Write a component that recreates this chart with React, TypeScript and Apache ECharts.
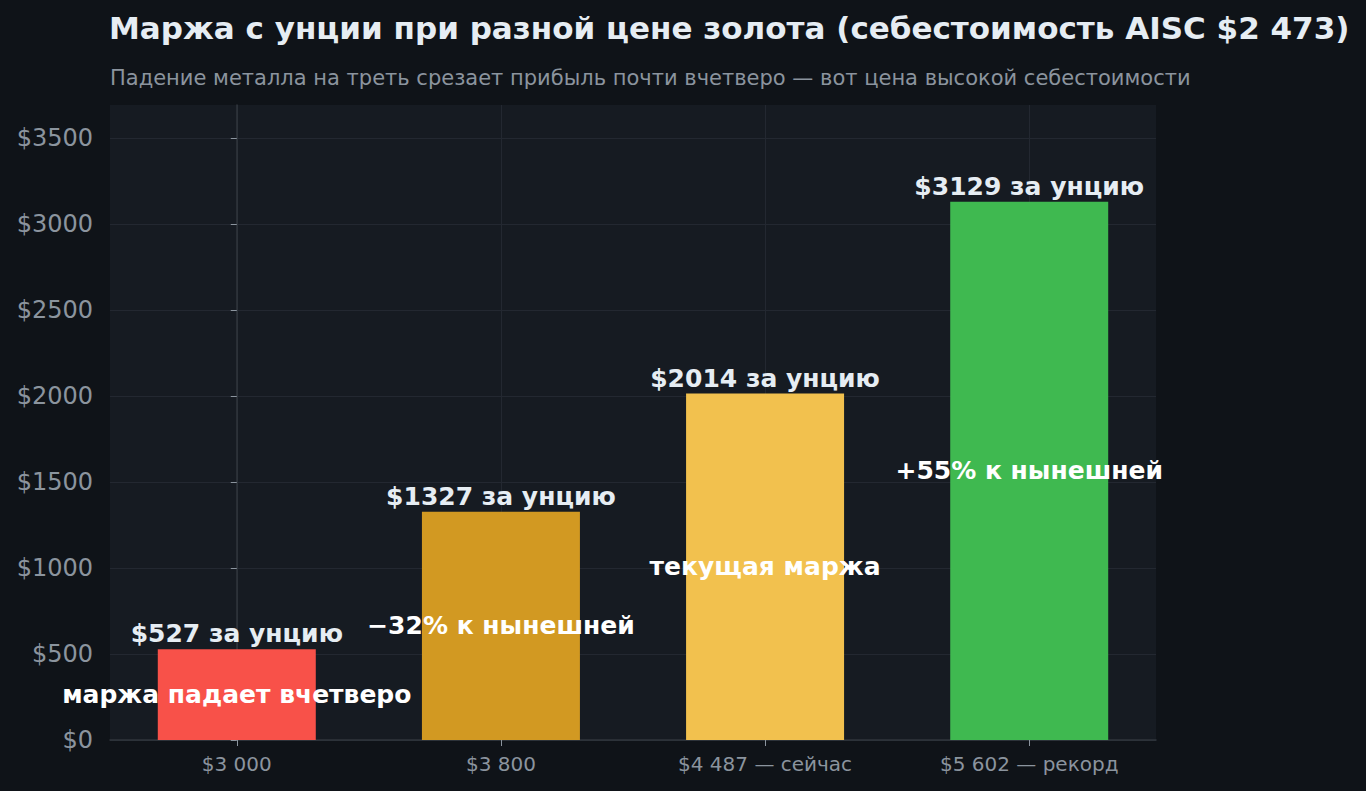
import React, { useEffect, useRef } from "react";
import * as echarts from "echarts";

// gold price scenarios and the margin per ounce (AISC $2 473)
const prices = ["$3 000", "$3 800", "$4 487 — сейчас", "$5 602 — рекорд"];
const margins = [527, 1327, 2014, 3129];
const notes = ["маржа падает вчетверо", "−32% к нынешней", "текущая маржа", "+55% к нынешней"];
const barColors = ["#f85149", "#d29922", "#f2c14e", "#3fb950"];
const yTicks = [0, 500, 1000, 1500, 2000, 2500, 3000, 3500];

const TITLE = "Маржа с унции при разной цене золота (себестоимость AISC $2 473)";
const SUBTITLE =
  "Падение металла на треть срезает прибыль почти вчетверо — вот цена высокой себестоимости";

const FONT = "DejaVu Sans";

const App: React.FC = () => {
  const chartRef = useRef<HTMLDivElement>(null);

  useEffect(() => {
    document.body.style.margin = "0";
    if (!chartRef.current) return;
    const chart = echarts.init(chartRef.current, null, { renderer: "svg" });

    const xIdx = prices.map((_, i) => i);
    const points = margins.map((v, i) => ({
      value: [i, v],
      itemStyle: { color: barColors[i] },
    }));

    const option = {
      animation: false,
      backgroundColor: "#0f1318",
      textStyle: { fontFamily: FONT },
      title: [
        {
          text: TITLE,
          left: 104,
          top: 7,
          textStyle: { color: "#e6edf3", fontSize: 31, fontWeight: "bold", fontFamily: FONT },
        },
        {
          text: SUBTITLE,
          left: 105,
          top: 62,
          textStyle: { color: "#8b949e", fontSize: 21, fontWeight: "normal", fontFamily: FONT },
        },
      ],
      grid: {
        left: 110,
        right: 210,
        top: 105,
        bottom: 51,
        show: true,
        backgroundColor: "#161b22",
        borderWidth: 0,
      },
      xAxis: {
        type: "value",
        min: -0.48,
        max: 3.48,
        axisLine: { show: true, lineStyle: { color: "#30363d", width: 1.5 } },
        axisTick: { show: true, customValues: xIdx, length: 6, lineStyle: { color: "#8b949e" } },
        axisLabel: {
          customValues: xIdx,
          formatter: (v: number) => prices[Math.round(v)] ?? "",
          color: "#8b949e",
          fontSize: 20,
          fontFamily: FONT,
          margin: 14,
        },
        splitLine: { show: true, customValues: xIdx, lineStyle: { color: "#232831", width: 1 } },
      },
      yAxis: {
        type: "value",
        min: 0,
        max: Math.round(Math.max(...margins) * 1.18),
        interval: 500,
        axisLine: { show: true, lineStyle: { color: "#30363d", width: 1.5 } },
        axisTick: { show: true, customValues: yTicks, length: 6, lineStyle: { color: "#8b949e" } },
        axisLabel: {
          customValues: yTicks,
          formatter: (v: number) => `$${v}`,
          color: "#8b949e",
          fontSize: 24,
          fontFamily: FONT,
          margin: 17,
        },
        splitLine: { show: true, customValues: yTicks, lineStyle: { color: "#232831", width: 1 } },
      },
      series: [
        {
          type: "bar",
          barWidth: 158,
          data: points,
          label: {
            show: true,
            position: "top",
            distance: 3,
            formatter: (p: any) => `$${p.value[1]} за унцию`,
            color: "#e6edf3",
            fontSize: 25,
            fontWeight: "bold",
            fontFamily: FONT,
          },
        },
        {
          type: "bar",
          barWidth: 158,
          barGap: "-100%",
          silent: true,
          data: margins.map((v, i) => [i, v]),
          itemStyle: { color: "transparent" },
          z: 3,
          label: {
            show: true,
            position: "inside",
            formatter: (p: any) => notes[p.dataIndex],
            color: "#ffffff",
            fontSize: 25,
            fontWeight: "bold",
            fontFamily: FONT,
          },
        },
      ],
    };

    chart.setOption(option);

    const handleResize = () => chart.resize();
    window.addEventListener("resize", handleResize);
    return () => {
      window.removeEventListener("resize", handleResize);
      chart.dispose();
    };
  }, []);

  return <div ref={chartRef} style={{ width: "1366px", height: "791px" }} />;
};

export default App;
